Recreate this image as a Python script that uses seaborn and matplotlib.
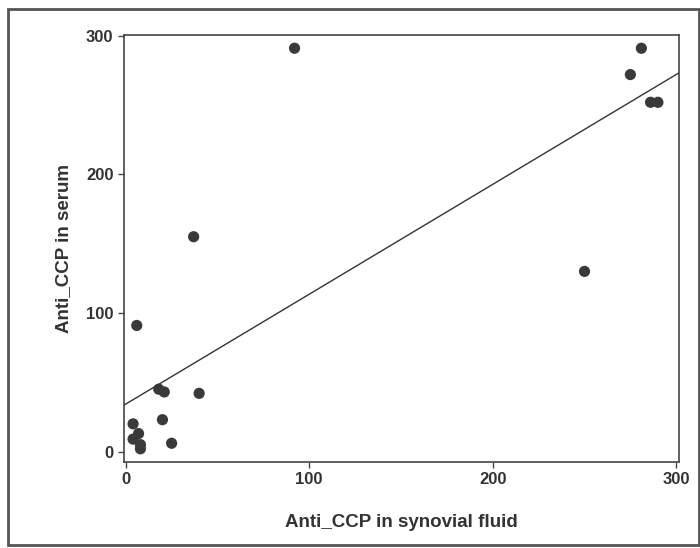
import matplotlib
matplotlib.use("Agg")
import matplotlib.pyplot as plt
import seaborn as sns
import pandas as pd
from matplotlib.patches import Rectangle

synovial = [92, 37, 6, 18, 21, 40, 20, 25, 4, 7, 4, 8, 8, 250, 281, 275, 286, 290]
serum = [291, 155, 91, 45, 43, 42, 23, 6, 20, 13, 9, 5, 2, 130, 291, 272, 252, 252]
xticks = [0, 100, 200, 300]
yticks = [0, 100, 200, 300]

df = pd.DataFrame({"Anti_CCP in synovial fluid": synovial, "Anti_CCP in serum": serum})

sns.set_style("white")
plt.rcParams["font.family"] = ["Liberation Sans", "DejaVu Sans"]

fig = plt.figure(figsize=(7, 5.48), dpi=100)
ax = fig.add_axes([0.177, 0.157, 0.793, 0.779])

sns.regplot(data=df, x="Anti_CCP in synovial fluid", y="Anti_CCP in serum", ci=None,
            ax=ax, truncate=False,
            scatter_kws=dict(s=65, color="#3a3a3a", edgecolor="none", alpha=1),
            line_kws=dict(color="#333333", lw=1.0))

ax.set_xlim(-1, 301.5)
ax.set_ylim(-7.5, 300.5)
ax.set_xticks(xticks)
ax.set_yticks(yticks)
ax.tick_params(axis="both", labelsize=12, length=4, width=1, color="#444444",
               direction="out", left=True, bottom=True, labelcolor="#333333")
for lab in ax.get_xticklabels() + ax.get_yticklabels():
    lab.set_fontweight("bold")
for sp in ax.spines.values():
    sp.set_color("#444444")
    sp.set_linewidth(1.2)
ax.set_xlabel("Anti_CCP in synovial fluid", fontsize=13.5, fontweight="bold",
              color="#333333", labelpad=19)
ax.set_ylabel("Anti_CCP in serum", fontsize=13.5, fontweight="bold",
              color="#333333", labelpad=10)

# scanned outer frame
fig.patches.append(Rectangle((0.012, 0.006), 0.986, 0.978, transform=fig.transFigure,
                             fill=False, edgecolor="#555555", lw=2.0))

fig.savefig("out.png", dpi=100)
